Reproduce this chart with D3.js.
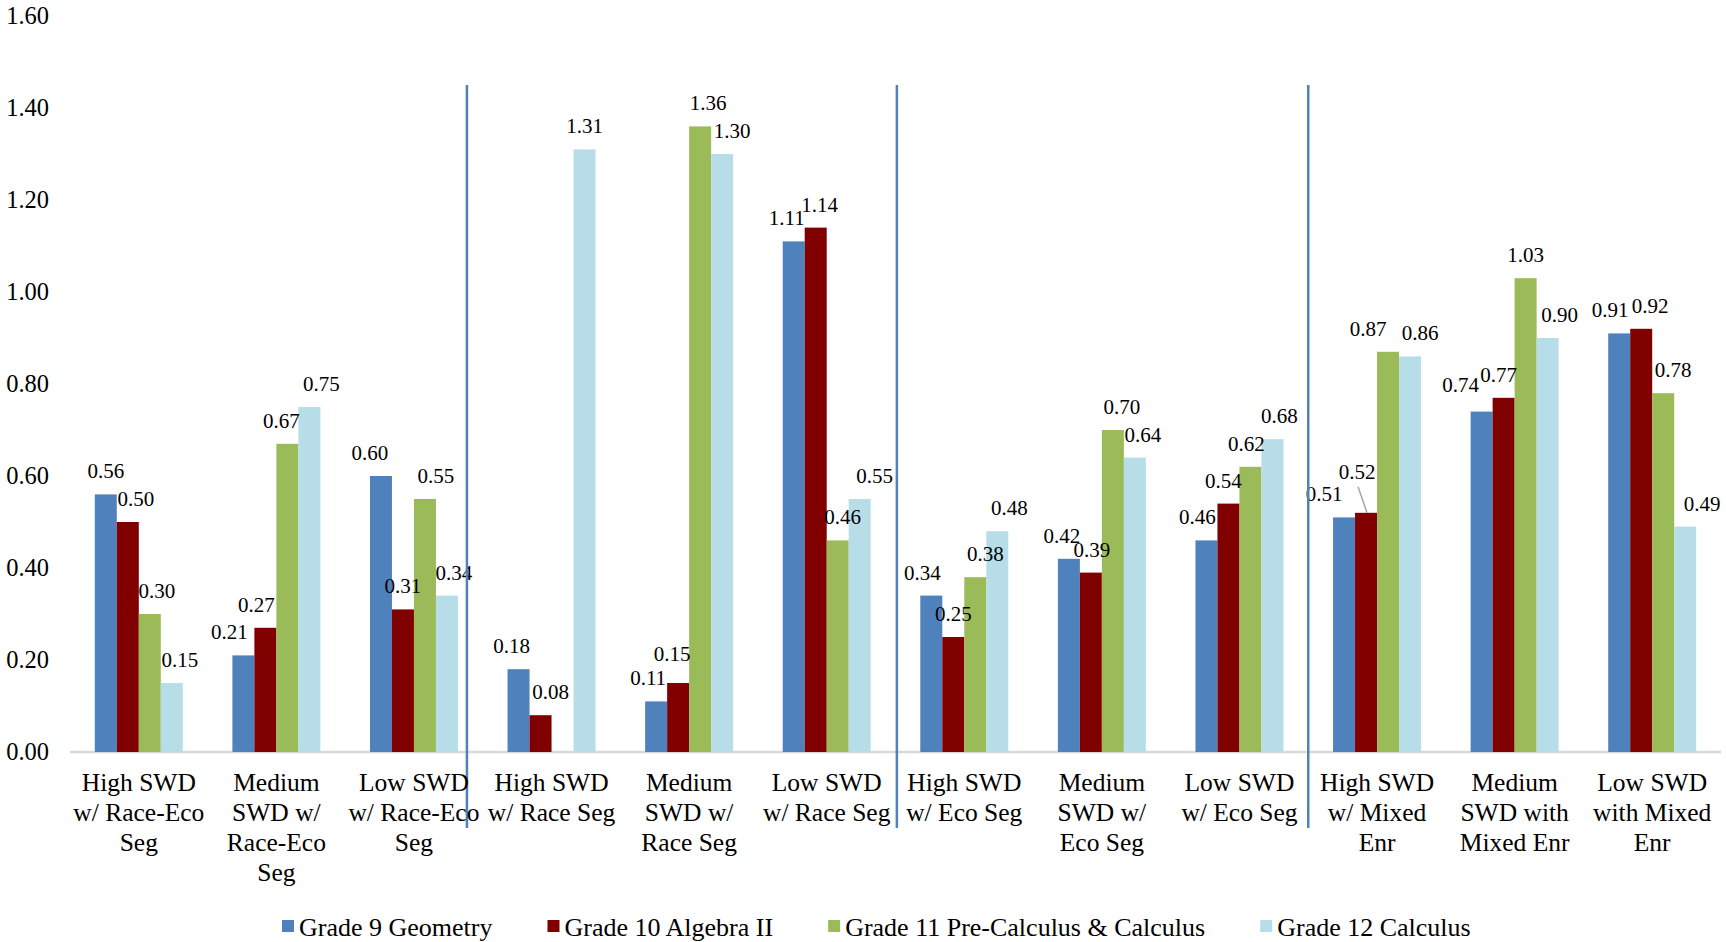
<!DOCTYPE html>
<html><head><meta charset="utf-8">
<script src="https://cdn.jsdelivr.net/npm/d3@7/dist/d3.min.js"></script>
<style>
body{margin:0;background:#fff}
svg{display:block;font-family:"Liberation Serif","Times New Roman",serif}
</style>
</head><body>
<svg id="chart" width="1726" height="942"></svg>
<script>
// ---------- data ----------
const categories = [
  "High SWD w/ Race-Eco Seg","Medium SWD w/ Race-Eco Seg","Low SWD w/ Race-Eco Seg",
  "High SWD w/ Race Seg","Medium SWD w/ Race Seg","Low SWD w/ Race Seg",
  "High SWD w/ Eco Seg","Medium SWD w/ Eco Seg","Low SWD w/ Eco Seg",
  "High SWD w/ Mixed Enr","Medium SWD with Mixed Enr","Low SWD with Mixed Enr"
];
const categoryLines = [
  ["High SWD","w/ Race-Eco","Seg"],["Medium","SWD w/","Race-Eco","Seg"],["Low SWD","w/ Race-Eco","Seg"],
  ["High SWD","w/ Race Seg"],["Medium","SWD w/","Race Seg"],["Low SWD","w/ Race Seg"],
  ["High SWD","w/ Eco Seg"],["Medium","SWD w/","Eco Seg"],["Low SWD","w/ Eco Seg"],
  ["High SWD","w/ Mixed","Enr"],["Medium","SWD with","Mixed Enr"],["Low SWD","with Mixed","Enr"]
];
const seriesNames = ["Grade 9 Geometry","Grade 10 Algebra II","Grade 11 Pre-Calculus & Calculus","Grade 12 Calculus"];
const seriesColors = ["#4f81bd","#800000","#9bbb59","#b7dee8"];
const grade9  = [0.56,0.21,0.60,0.18,0.11,1.11,0.34,0.42,0.46,0.51,0.74,0.91];
const grade10 = [0.50,0.27,0.31,0.08,0.15,1.14,0.25,0.39,0.54,0.52,0.77,0.92];
const grade11 = [0.30,0.67,0.55,null,1.36,0.46,0.38,0.70,0.62,0.87,1.03,0.78];
const grade12 = [0.15,0.75,0.34,1.31,1.30,0.55,0.48,0.64,0.68,0.86,0.90,0.49];
const yTicks = [0,0.2,0.4,0.6,0.8,1.0,1.2,1.4,1.6];
// divider lines, expressed in category steps from the left of the plot
const dividerSteps = [2.885, 6.01, 9.0];
// data-label nudges (px) as placed in the original chart
const labelNudgeX = [
  [0,8,7,8],[-14,-9,-6,12],[-11,0,11,7],[-7,10,0,0],[-8,-6,8,10],[-7,4,5,15],
  [-9,0,10,12],[-7,1,9,8],[-9,-5,-4,7],[-20,-9,-20,10],[-21,-5,0,12],[-9,9,10,17]
];
const labelRaise = [
  [0,0,0,0],[0,0,0,0],[0,0,0,0],[0,0,0,0],[0,6,0,0],[0,0,0,0],
  [0,0,0,0],[0,0,0,0],[0,0,0,0],[0,18,0,0],[4,0,0,0],[0,0,0,0]
];
const seriesValues = [grade9, grade10, grade11, grade12];

// ---------- layout ----------
const svg = d3.select("#chart");
const plotLeft = 70, plotRight = 1721, plotTop = 16, plotBottom = 752;

const x0 = d3.scaleBand().domain(d3.range(categories.length))
  .range([plotLeft, plotRight]).paddingInner(0.3605).paddingOuter(0.3605/2);
const x1 = d3.scaleBand().domain(d3.range(seriesNames.length)).range([0, x0.bandwidth()]).padding(0);
const y = d3.scaleLinear().domain([0, 1.6]).range([plotBottom, plotTop]);
const step = x0.step();

// y axis labels
svg.append("g").selectAll("text").data(yTicks).join("text")
  .attr("x", 49).attr("y", d => y(d) + 7.5)
  .attr("text-anchor", "end")
  .attr("font-size", 24.5).attr("fill", "#000")
  .text(d => d.toFixed(2));

// baseline axis
svg.append("line")
  .attr("x1", plotLeft).attr("x2", plotRight)
  .attr("y1", y(0)).attr("y2", y(0))
  .attr("stroke", "#d9d9d9").attr("stroke-width", 2.5);

// bars
const flat = [];
categories.forEach((c, i) => seriesValues.forEach((vals, j) => {
  if (vals[i] != null) flat.push({i, j, v: vals[i]});
}));

svg.append("g").selectAll("rect").data(flat).join("rect")
  .attr("x", d => x0(d.i) + x1(d.j))
  .attr("width", x1.bandwidth())
  .attr("y", d => y(d.v))
  .attr("height", d => y(0) - y(d.v))
  .attr("fill", d => seriesColors[d.j]);

// leader lines for raised labels
svg.append("g").selectAll("line").data(flat.filter(d => labelRaise[d.i][d.j] > 10)).join("line")
  .attr("x1", d => x0(d.i) + x1(d.j) + x1.bandwidth()/2 + labelNudgeX[d.i][d.j] + 1)
  .attr("y1", d => y(d.v) - 16 - labelRaise[d.i][d.j] + 8)
  .attr("x2", d => x0(d.i) + x1(d.j) + x1.bandwidth()/2 + 1)
  .attr("y2", d => y(d.v))
  .attr("stroke", "#a6a6a6").attr("stroke-width", 1.5);

// data labels
svg.append("g").selectAll("text").data(flat).join("text")
  .attr("x", d => x0(d.i) + x1(d.j) + x1.bandwidth()/2 + labelNudgeX[d.i][d.j])
  .attr("y", d => y(d.v) - 16 - labelRaise[d.i][d.j])
  .attr("text-anchor", "middle")
  .attr("font-size", 21).attr("fill", "#000")
  .text(d => d.v.toFixed(2));

// divider lines
svg.append("g").selectAll("line").data(dividerSteps).join("line")
  .attr("x1", d => plotLeft + d * step).attr("x2", d => plotLeft + d * step)
  .attr("y1", 85).attr("y2", 828)
  .attr("stroke", "#4f81bd").attr("stroke-width", 2.5);

// category labels
const cat = svg.append("g").selectAll("text").data(categoryLines).join("text")
  .attr("text-anchor", "middle")
  .attr("font-size", 25.5).attr("fill", "#000");
cat.each(function(lines, i) {
  d3.select(this).selectAll("tspan").data(lines).join("tspan")
    .attr("x", x0(i) + x0.bandwidth()/2)
    .attr("y", (d, k) => 791 + k * 30)
    .text(d => d);
});

// legend
const legend = svg.append("g");
let lx = 282;
seriesNames.forEach((name, j) => {
  legend.append("rect").attr("x", lx).attr("y", 920).attr("width", 12).attr("height", 12)
    .attr("fill", seriesColors[j]);
  const t = legend.append("text").attr("x", lx + 17).attr("y", 936)
    .attr("font-size", 26).attr("fill", "#000").text(name);
  lx += 17 + t.node().getComputedTextLength() + 55;
});
</script>
</body></html>
